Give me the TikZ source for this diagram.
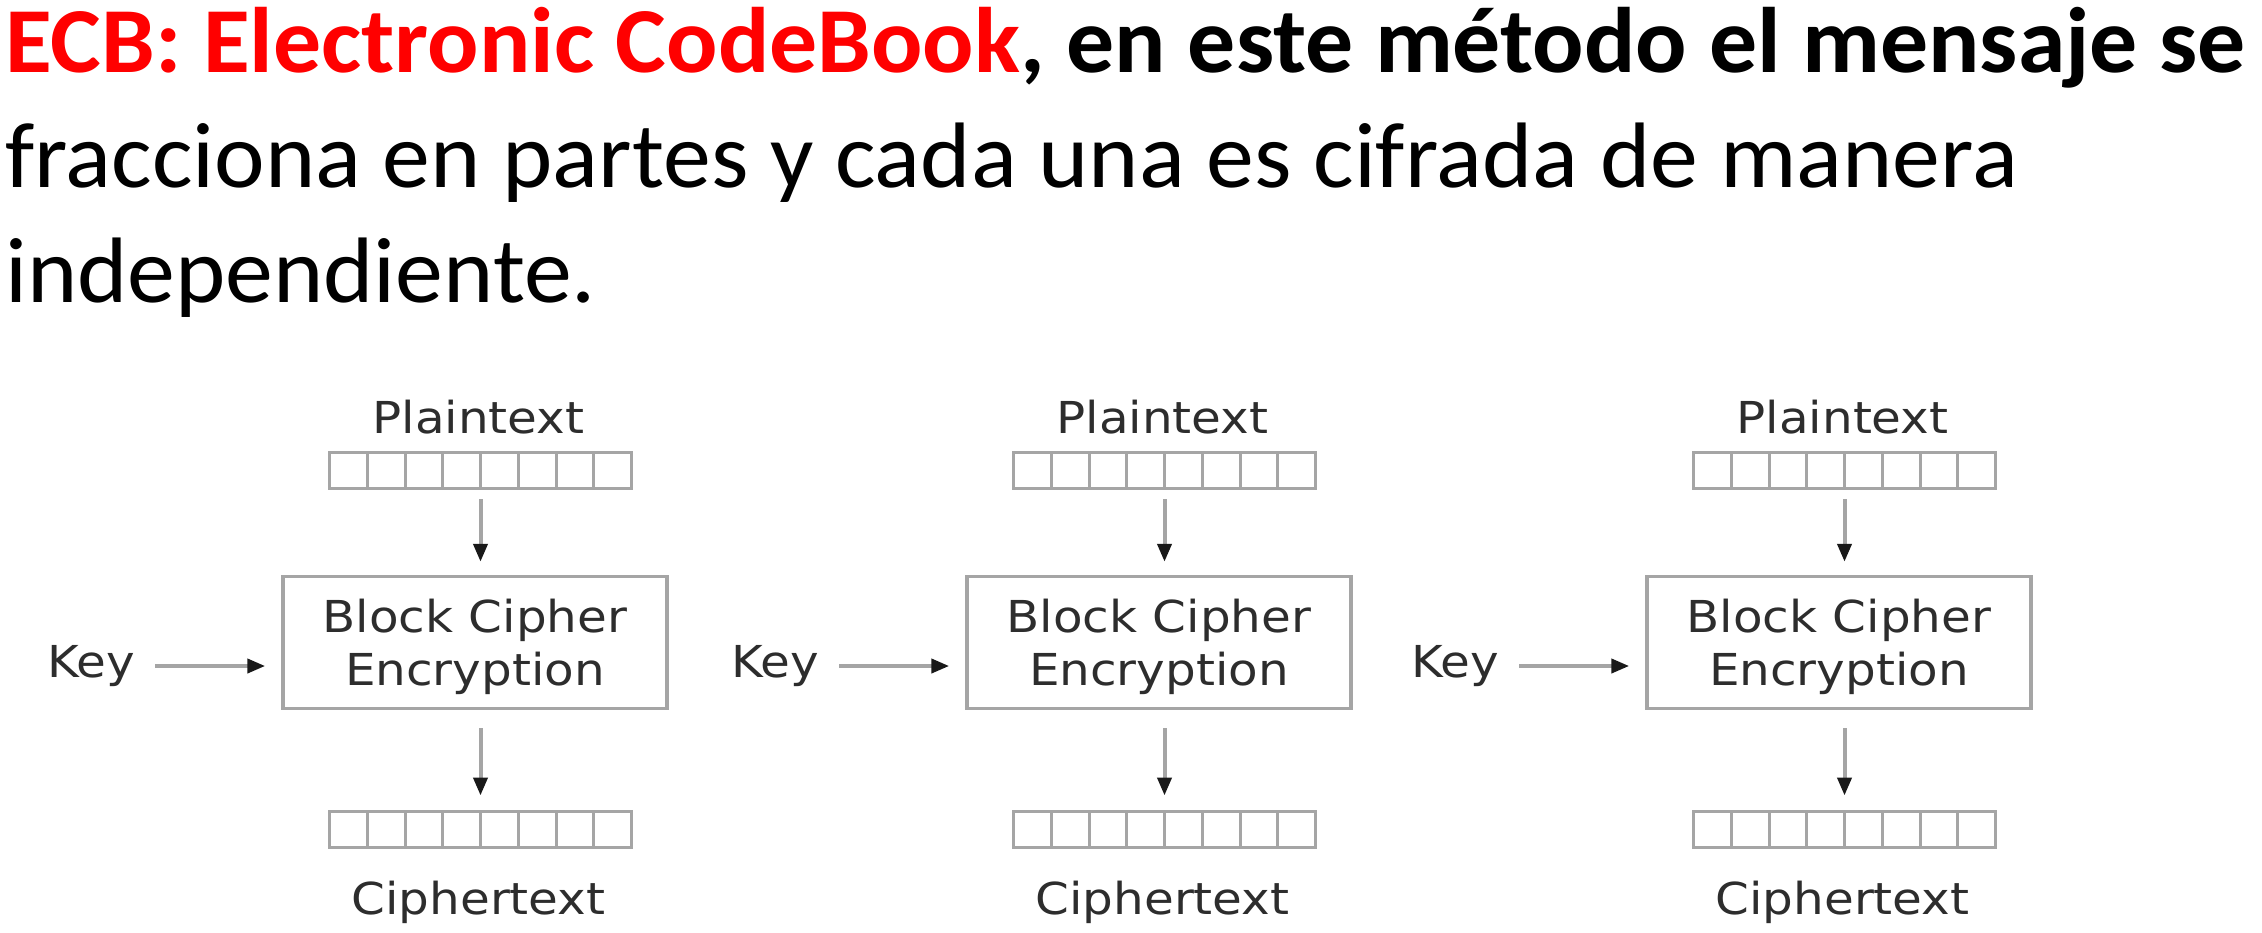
\documentclass[tikz,border=0pt]{standalone}
\usepackage{fontspec}
\setmainfont{Carlito}[FakeStretch=1.03]
\newfontfamily\diagfont[FakeStretch=1.1]{DejaVu Sans}
\usepackage{xcolor}
\usetikzlibrary{arrows.meta,positioning,matrix}
\definecolor{ecbred}{RGB}{255,0,0}
\definecolor{diagtext}{RGB}{45,45,45}
\definecolor{linegray}{RGB}{165,165,165}
\definecolor{cellgray}{RGB}{165,165,165}
\tikzstyle{regcell} = [draw=cellgray, line width=3pt, minimum width=37.75pt, minimum height=36pt, inner sep=0pt, outer sep=0pt]
\tikzstyle{encbox} = [draw=linegray, line width=3.5pt, minimum width=384pt, minimum height=132pt, align=center, text=diagtext, font=\diagfont\fontsize{44}{53}\selectfont]
\tikzstyle{ecblabel} = [inner sep=0pt, anchor=base, text=diagtext, font=\diagfont\fontsize{44}{53}\selectfont]
\tikzstyle{ecblink} = [draw=linegray, line width=4pt, -{Triangle[length=18pt,width=14pt,color=black!90]}]
\tikzstyle{titleline} = [inner sep=0pt, anchor=base west, font=\fontsize{93}{115}\selectfont]
\newcommand{\xyshift}[3]{% help to place the blocks
  \begin{scope}[xshift=#1, yshift=#2]
    #3
  \end{scope}%
}
\newcommand{\ecbregister}[3]{% #1: name; #2, #3: centre
  \matrix [ampersand replacement=\&, column sep=-3pt, inner sep=0pt, outer sep=0pt] (#1) at (#2,#3)
  {
    \node[regcell] (#1-1) {}; \& \node[regcell] (#1-2) {}; \&
    \node[regcell] (#1-3) {}; \& \node[regcell] (#1-4) {}; \&
    \node[regcell] (#1-5) {}; \& \node[regcell] (#1-6) {}; \&
    \node[regcell] (#1-7) {}; \& \node[regcell] (#1-8) {}; \\
  };
}
\newcommand{\ecbblock}[1]{% #1: block name
  \node[ecblabel] (#1-plain) at (478.5,433.5) {Plaintext};
  \ecbregister{#1-in}{480.5}{470.5}
  \node[encbox] (#1-enc) at (475,642.5) {Block Cipher\\\raisebox{0pt}[\height][0pt]{Encryption}};
  \node[ecblabel] (#1-key) at (91,677) {Key};
  \ecbregister{#1-out}{480.5}{829}
  \node[ecblabel] (#1-ciph) at (478.5,914.5) {Ciphertext};
  \coordinate (#1-kin) at ([xshift=20pt,yshift=11pt]#1-key.base east);
  \draw[ecblink, shorten >=16pt] (#1-kin) -- (#1-kin -| #1-enc.west);
  \draw[ecblink, shorten <=9pt, shorten >=13pt] (#1-in.south) -- (#1-in.south |- #1-enc.north);
  \draw[ecblink, shorten <=18pt, shorten >=14pt] (#1-in.south |- #1-enc.south) -- (#1-out.north);
}

\begin{document}
\begin{tikzpicture}[x=1pt, y=-1pt]
        \useasboundingbox (0,0) rectangle (2262,932);
        % 
        \node[titleline] (head1) at (5,72) {\bfseries\textcolor{ecbred}{ECB: Electronic CodeBook}, en este método el mensaje se};
        \node[titleline] (head2) at (5,187) {fracciona en partes y cada una es cifrada de manera};
        \node[titleline] (head3) at (5,302) {independiente.};
        \foreach \i/\dx in {1/0pt,2/684pt,3/1364pt} { \xyshift{\dx}{0pt}{\ecbblock{b\i}} }
\end{tikzpicture}
\end{document}
